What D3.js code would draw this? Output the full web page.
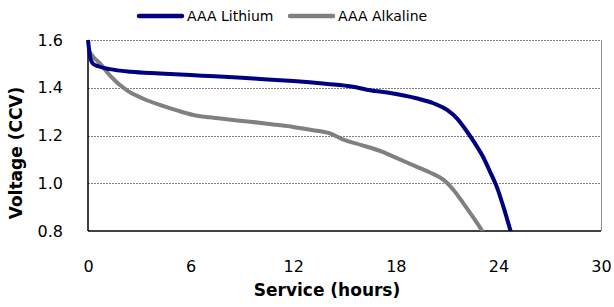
<!DOCTYPE html>
<html>
<head>
<meta charset="utf-8">
<script src="https://cdn.jsdelivr.net/npm/d3@7"></script>
<style>
  body { margin: 0; background: #fff; }
  text { font-family: "DejaVu Sans", sans-serif; fill: #000; }
</style>
</head>
<body>
<div id="chart"></div>
<script>
// data: [hours, volts]
const lithium = [
  [0, 1.60], [0.15, 1.52], [0.3, 1.50], [0.6, 1.49], [1.28, 1.478], [2.5, 1.467],
  [4.2, 1.46], [6, 1.453], [7.1, 1.449], [9, 1.442], [10.06, 1.437], [12, 1.428],
  [14, 1.416], [15.5, 1.404], [16.3, 1.392], [17.5, 1.38], [19.2, 1.356],
  [20.2, 1.335], [21, 1.307], [21.6, 1.27], [22.1, 1.223], [22.6, 1.17],
  [23.1, 1.111], [23.5, 1.05], [23.9, 0.986], [24.3, 0.9], [24.75, 0.79]
];
const alkaline = [
  [0, 1.56], [0.3, 1.53], [0.7, 1.502], [1.3, 1.45], [2.26, 1.39], [3.2, 1.355],
  [4.2, 1.328], [5.2, 1.305], [6.16, 1.286], [7.1, 1.276], [8.1, 1.268],
  [9.47, 1.258], [11, 1.245], [12, 1.236], [13, 1.224], [14.15, 1.209],
  [14.9, 1.184], [16, 1.16], [17.27, 1.13], [18, 1.107], [19.2, 1.07],
  [20, 1.045], [20.8, 1.014], [21.4, 0.97], [21.95, 0.916], [22.5, 0.86], [23.15, 0.79]
];
const seriesNames = ["AAA Lithium", "AAA Alkaline"];
const seriesColors = ["#000080", "#808080"];
const xTicks = [0, 6, 12, 18, 24, 30];
const yTicks = [0.8, 1.0, 1.2, 1.4, 1.6];

// step 1 svg and margins
const width = 614, height = 307;
const margin = { top: 40, right: 13, bottom: 76, left: 88 };
const w = width - margin.left - margin.right,
      h = height - margin.top - margin.bottom;

const svg = d3.select("#chart").append("svg")
  .attr("width", width).attr("height", height);
const g = svg.append("g")
  .attr("transform", "translate(" + margin.left + "," + margin.top + ")");

// step 2 scales
const xScale = d3.scaleLinear().domain([0, 30]).range([0, w]);
const yScale = d3.scaleLinear().domain([0.8, 1.6]).range([h, 0]);

// step 3 gridlines
g.selectAll(".grid").data(yTicks.slice(1)).enter().append("line")
  .attr("class", "grid")
  .attr("x1", 0).attr("x2", w)
  .attr("y1", d => Math.round(yScale(d)) + 0.5).attr("y2", d => Math.round(yScale(d)) + 0.5)
  .attr("stroke", "#808080").attr("stroke-width", 1).attr("stroke-dasharray", "2,1");

// right border
g.append("line")
  .attr("x1", w + 0.5).attr("x2", w + 0.5).attr("y1", 0).attr("y2", h)
  .attr("stroke", "#909090");

// step 4 axes
const xAxis = d3.axisBottom(xScale).tickValues(xTicks).tickSize(0).tickPadding(30);
const yAxis = d3.axisLeft(yScale).tickValues(yTicks).tickSize(0).tickPadding(25)
  .tickFormat(d3.format(".1f"));

const gx = g.append("g").attr("transform", "translate(0," + h + ")").call(xAxis);
const gy = g.append("g").call(yAxis);
[gx, gy].forEach(a => {
  a.select(".domain").attr("stroke", "#000").attr("stroke-width", 1.5);
  a.selectAll("text").style("font-family", "DejaVu Sans").style("font-size", "16px");
});
gx.select(".domain").attr("d", "M0,0H" + w);
gy.select(".domain").attr("d", "M0,0V" + h);

// step 5 lines
svg.append("clipPath").attr("id", "clip").append("rect")
  .attr("x", -2).attr("y", -2).attr("width", w + 2).attr("height", h + 2);

const line = d3.line()
  .x(d => xScale(d[0]))
  .y(d => yScale(d[1]))
  .curve(d3.curveMonotoneX);

const plot = g.append("g").attr("clip-path", "url(#clip)");
[alkaline, lithium].forEach((s, i) => {
  plot.append("path")
    .datum(s)
    .attr("fill", "none")
    .attr("stroke", i === 0 ? seriesColors[1] : seriesColors[0])
    .attr("stroke-width", 4)
    .attr("d", line);
});

// step 6 axis titles
svg.append("text")
  .attr("x", 327).attr("y", 296)
  .attr("text-anchor", "middle")
  .style("font-weight", "bold").style("font-size", "17px")
  .text("Service (hours)");

svg.append("text")
  .attr("transform", "translate(22,153) rotate(-90)")
  .attr("text-anchor", "middle")
  .style("font-weight", "bold").style("font-size", "17px")
  .text("Voltage (CCV)");

// step 7 legend
const legendX = [137, 288];
const legend = svg.selectAll(".legend").data(seriesNames).enter().append("g")
  .attr("class", "legend")
  .attr("transform", (d, i) => "translate(" + legendX[i] + ",16)");
legend.append("line")
  .attr("x1", 2).attr("x2", 45).attr("y1", 0).attr("y2", 0)
  .attr("stroke", (d, i) => seriesColors[i])
  .attr("stroke-width", 4.5).attr("stroke-linecap", "round");
legend.append("text")
  .attr("x", 50).attr("y", 5)
  .style("font-size", "14px")
  .text(d => d);
</script>
</body>
</html>
